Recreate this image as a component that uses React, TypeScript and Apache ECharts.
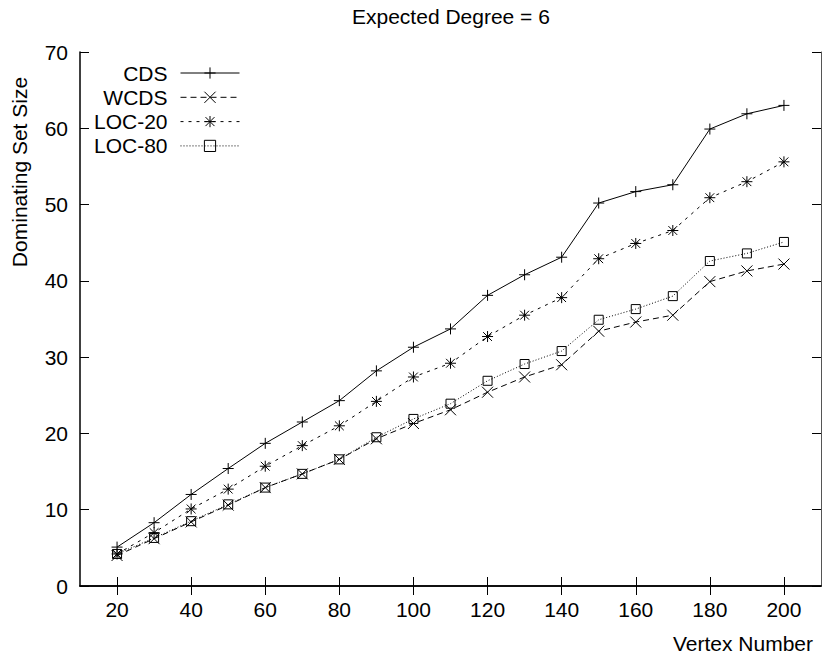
import React, { useEffect, useRef } from "react";
import * as echarts from "echarts";

const chartTitle = "Expected Degree = 6";
const xAxisTitle = "Vertex Number";
const yAxisTitle = "Dominating Set Size";

const vertexNumbers = [20, 30, 40, 50, 60, 70, 80, 90, 100, 110, 120, 130, 140, 150, 160, 170, 180, 190, 200];
const cdsSizes = [5.1, 8.3, 12.0, 15.4, 18.7, 21.5, 24.3, 28.2, 31.3, 33.7, 38.1, 40.8, 43.1, 50.2, 51.7, 52.6, 59.9, 61.9, 63.0];
const wcdsSizes = [4.0, 6.2, 8.4, 10.6, 12.9, 14.7, 16.6, 19.3, 21.3, 23.1, 25.4, 27.4, 29.0, 33.4, 34.6, 35.5, 39.9, 41.3, 42.2];
const loc20Sizes = [4.2, 7.0, 10.1, 12.7, 15.7, 18.4, 21.0, 24.2, 27.4, 29.2, 32.7, 35.5, 37.8, 42.9, 44.9, 46.6, 50.9, 53.0, 55.6];
const loc80Sizes = [4.2, 6.3, 8.5, 10.7, 12.9, 14.7, 16.6, 19.5, 21.9, 23.9, 26.9, 29.1, 30.8, 34.9, 36.3, 38.0, 42.6, 43.6, 45.1];

const seriesNames = ["CDS", "WCDS", "LOC-20", "LOC-80"];
const xTickValues = [20, 40, 60, 80, 100, 120, 140, 160, 180, 200];

const FONT = "'Liberation Sans', Arial, Helvetica, sans-serif";

const SYM_PLUS = "path://M5,0 L5,10 M0,5 L10,5";
const SYM_CROSS = "path://M0,0 L10,10 M10,0 L0,10";
const SYM_STAR = "path://M5,0 L5,10 M0,5 L10,5 M1,1 L9,9 M9,1 L1,9";
const SYM_SQUARE = "path://M0,0 L10,0 L10,10 L0,10 Z";

function pairs(ys: number[]) {
  return vertexNumbers.map((x, i) => [x, ys[i]]);
}

export default function App() {
  const ref = useRef<HTMLDivElement>(null);

  useEffect(() => {
    if (!ref.current) return;
    const chart = echarts.init(ref.current, null, { renderer: "svg" });

    const mkSeries = (name: string, ys: number[], symbol: string, size: number, dash: any) => ({
      name,
      type: "line",
      data: pairs(ys),
      symbol,
      symbolSize: size,
      showAllSymbol: true,
      xAxisIndex: 0,
      yAxisIndex: 0,
      lineStyle: { color: "#000", width: 1, type: dash },
      itemStyle: { color: "transparent", borderColor: "#000", borderWidth: 1 },
      emphasis: { disabled: true },
      z: 3,
    });

    const axisCommon = {
      axisLine: { show: true, lineStyle: { color: "#000", width: 1.5 } },
      splitLine: { show: false },
    };

    const option: any = {
      animation: false,
      backgroundColor: "#fff",
      textStyle: { fontFamily: FONT, color: "#000" },
      title: {
        text: chartTitle,
        left: 352,
        top: 6,
        padding: 0,
        textStyle: { fontFamily: FONT, fontSize: 21, fontWeight: "normal", color: "#000" },
      },
      grid: { left: 80, right: 5, top: 52, bottom: 74, containLabel: false },
      legend: {
        orient: "vertical",
        align: "right",
        right: 586,
        top: 62.5,
        padding: 0,
        itemWidth: 59,
        itemHeight: 14,
        itemGap: 3.3,
        selectedMode: false,
        data: seriesNames,
        textStyle: { fontFamily: FONT, fontSize: 21, color: "#000", lineHeight: 21, padding: [0, 8, 0, 0] },
        itemStyle: { borderWidth: 1, borderColor: "#000", color: "transparent" },
        lineStyle: { width: 1, color: "#000" },
      },
      xAxis: [
        {
          type: "value",
          position: "bottom",
          min: 10,
          max: 210,
          ...axisCommon,
          axisTick: { show: true, inside: true, length: 9, customValues: xTickValues, lineStyle: { color: "#000", width: 1 } },
          axisLabel: { show: true, customValues: xTickValues, margin: 13, fontFamily: FONT, fontSize: 21, color: "#000" },
        },
        {
          type: "value",
          position: "top",
          min: 10,
          max: 210,
          ...axisCommon,
          axisTick: { show: true, inside: true, length: 9, customValues: xTickValues, lineStyle: { color: "#000", width: 1 } },
          axisLabel: { show: false },
        },
      ],
      yAxis: [
        {
          type: "value",
          position: "left",
          min: 0,
          max: 70,
          interval: 10,
          ...axisCommon,
          axisTick: { show: true, inside: true, length: 9, lineStyle: { color: "#000", width: 1 } },
          axisLabel: { show: true, margin: 12, fontFamily: FONT, fontSize: 21, color: "#000" },
        },
        {
          type: "value",
          position: "right",
          min: 0,
          max: 70,
          interval: 10,
          ...axisCommon,
          axisLine: { show: true, lineStyle: { color: "#555", width: 1 } },
          axisTick: { show: true, inside: true, length: 9, lineStyle: { color: "#000", width: 1 } },
          axisLabel: { show: false },
        },
      ],
      graphic: [
        {
          type: "text",
          x: 813,
          y: 643,
          style: { text: xAxisTitle, font: `21px ${FONT}`, fill: "#000", align: "right", verticalAlign: "middle" },
        },
        {
          type: "text",
          x: 19,
          y: 172,
          rotation: Math.PI / 2,
          style: { text: yAxisTitle, font: `21px ${FONT}`, fill: "#000", align: "center", verticalAlign: "middle" },
        },
      ],
      series: [
        mkSeries(seriesNames[0], cdsSizes, SYM_PLUS, 11, "solid"),
        mkSeries(seriesNames[1], wcdsSizes, SYM_CROSS, 11, [6, 4]),
        mkSeries(seriesNames[2], loc20Sizes, SYM_STAR, 11, [3, 5]),
        mkSeries(seriesNames[3], loc80Sizes, SYM_SQUARE, 9, [1, 2]),
      ],
    };

    chart.setOption(option);
    return () => chart.dispose();
  }, []);

  return (
    <div
      ref={ref}
      style={{ position: "fixed", left: 0, top: 0, width: 826, height: 660, background: "#fff" }}
    />
  );
}
